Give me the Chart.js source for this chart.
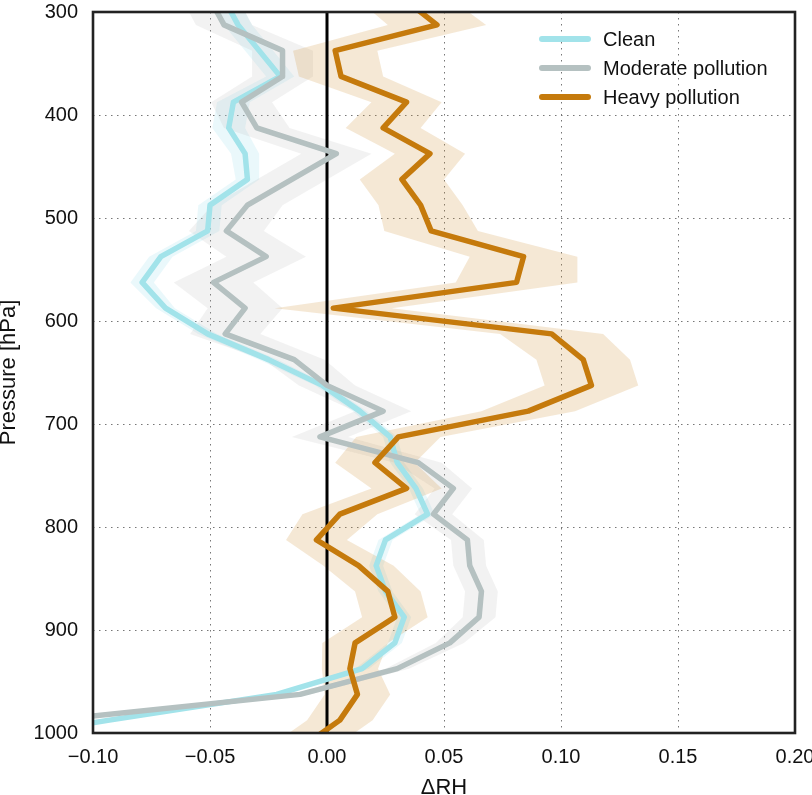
<!DOCTYPE html>
<html>
<head>
<meta charset="utf-8">
<script src="https://cdn.jsdelivr.net/npm/chart.js@4.4.1/dist/chart.umd.min.js"></script>
<style>
  html, body { margin: 0; padding: 0; background: #fff; }
  #wrap { width: 812px; height: 795px; position: relative; }
</style>
</head>
<body>
<div id="wrap"><canvas id="chart"></canvas></div>
<script>
'use strict';

// pressure levels (hPa), bin centres
const levels = [
  287.5, 312.5, 337.5, 362.5, 387.5, 412.5, 437.5, 462.5, 487.5, 512.5,
  537.5, 562.5, 587.5, 612.5, 637.5, 662.5, 687.5, 712.5, 737.5, 762.5,
  787.5, 812.5, 837.5, 862.5, 887.5, 912.5, 937.5, 962.5, 987.5, 1012.5,
];

const seriesNames = ['Clean', 'Moderate pollution', 'Heavy pollution'];

const clean = [
  -0.044, -0.038, -0.029, -0.020, -0.040, -0.042, -0.035, -0.034, -0.050, -0.051,
  -0.071, -0.079, -0.069, -0.051, -0.025, -0.002, 0.014, 0.027, 0.030, 0.038,
  0.043, 0.025, 0.021, 0.025, 0.033, 0.029, 0.015, -0.0215, -0.093, -0.16,
];
const moderate = [
  -0.050, -0.044, -0.019, -0.019, -0.0365, -0.030, 0.004, -0.015, -0.034, -0.043,
  -0.026, -0.0485, -0.035, -0.0435, -0.014, 0.000, 0.024, -0.003, 0.039, 0.054,
  0.0455, 0.060, 0.061, 0.066, 0.065, 0.0525, 0.030, -0.0115, -0.117, -0.23,
];
const heavy = [
  0.033, 0.047, 0.0035, 0.006, 0.034, 0.024, 0.044, 0.032, 0.040, 0.0445,
  0.084, 0.081, 0.0027, 0.096, 0.1095, 0.113, 0.086, 0.0305, 0.0205, 0.034,
  0.0055, -0.0045, 0.0135, 0.026, 0.029, 0.012, 0.0098, 0.013, 0.0055, -0.01,
];

// half-width of the shaded spread
const cleanErr = [
  0.006, 0.006, 0.006, 0.006, 0.007, 0.007, 0.006, 0.005, 0.005, 0.005,
  0.005, 0.005, 0.004, 0.004, 0.004, 0.003, 0.003, 0.003, 0.003, 0.003,
  0.003, 0.003, 0.003, 0.003, 0.003, 0.003, 0.003, 0.003, 0.003, 0.003,
];
const moderateErr = [
  0.012, 0.012, 0.013, 0.013, 0.013, 0.014, 0.015, 0.015, 0.015, 0.016,
  0.017, 0.017, 0.016, 0.015, 0.013, 0.012, 0.012, 0.012, 0.010, 0.008,
  0.008, 0.007, 0.007, 0.007, 0.007, 0.006, 0.005, 0.004, 0.004, 0.004,
];
const heavyErr = [
  0.020, 0.021, 0.018, 0.018, 0.015, 0.016, 0.015, 0.018, 0.018, 0.020,
  0.023, 0.026, 0.025, 0.022, 0.020, 0.020, 0.020, 0.018, 0.017, 0.015,
  0.016, 0.013, 0.015, 0.014, 0.014, 0.014, 0.012, 0.014, 0.014, 0.014,
];

const xTicks = [-0.10, -0.05, 0.00, 0.05, 0.10, 0.15, 0.20];
const yTicks = [300, 400, 500, 600, 700, 800, 900, 1000];

const lineColors = ['#a2e3ea', '#b5c1c1', '#c57a0c'];
const bandColors = ['rgba(160, 225, 235, 0.22)', 'rgba(180, 180, 180, 0.17)', 'rgba(210, 145, 55, 0.21)'];
const fontFamily = "'Liberation Sans', Arial, Helvetica, sans-serif";

const seriesValues = [clean, moderate, heavy];
const seriesErrors = [cleanErr, moderateErr, heavyErr];

function toPoints(values) {
  return levels.map((p, i) => ({ x: values[i], y: p }));
}

function formatTick(v) {
  if (Math.abs(v) < 1e-9) return '0.00';
  return (v < 0 ? '\u2212' : '') + Math.abs(v).toFixed(2);
}

const bandPlugin = {
  id: 'bands',
  beforeDatasetsDraw(chart) {
    const { ctx, chartArea, scales } = chart;
    ctx.save();
    ctx.beginPath();
    ctx.rect(chartArea.left, chartArea.top, chartArea.width, chartArea.height);
    ctx.clip();

    seriesValues.forEach((values, s) => {
      const err = seriesErrors[s];
      ctx.beginPath();
      levels.forEach((p, i) => {
        const px = scales.x.getPixelForValue(values[i] - err[i]);
        const py = scales.y.getPixelForValue(p);
        if (i === 0) ctx.moveTo(px, py); else ctx.lineTo(px, py);
      });
      for (let i = levels.length - 1; i >= 0; i--) {
        ctx.lineTo(scales.x.getPixelForValue(values[i] + err[i]), scales.y.getPixelForValue(levels[i]));
      }
      ctx.closePath();
      ctx.fillStyle = bandColors[s];
      ctx.fill();
    });

    // zero line
    const x0 = scales.x.getPixelForValue(0);
    ctx.beginPath();
    ctx.moveTo(x0, chartArea.top);
    ctx.lineTo(x0, chartArea.bottom);
    ctx.lineWidth = 3;
    ctx.strokeStyle = '#000';
    ctx.stroke();
    ctx.restore();
  },
};

const framePlugin = {
  id: 'frame',
  afterDraw(chart) {
    const { ctx, chartArea } = chart;
    ctx.save();

    // legend in the upper right of the plot
    ctx.font = `20px ${fontFamily}`;
    ctx.textBaseline = 'middle';
    ctx.textAlign = 'left';
    seriesNames.forEach((name, i) => {
      const y = chartArea.top + 27 + i * 29;
      const x = chartArea.right - 253;
      ctx.beginPath();
      ctx.moveTo(x, y);
      ctx.lineTo(x + 46, y);
      ctx.lineWidth = 6;
      ctx.lineCap = 'round';
      ctx.strokeStyle = lineColors[i];
      ctx.stroke();
      ctx.fillStyle = '#111';
      ctx.fillText(name, x + 61, y + 1);
    });

    ctx.lineWidth = 2.6;
    ctx.strokeStyle = '#222';
    ctx.strokeRect(chartArea.left, chartArea.top, chartArea.width, chartArea.height);
    ctx.restore();
  },
};

const datasets = seriesValues.map((values, i) => ({
  label: seriesNames[i],
  data: toPoints(values),
  showLine: true,
  borderColor: lineColors[i],
  backgroundColor: lineColors[i],
  borderWidth: 5.5,
  borderJoinStyle: 'round',
  pointRadius: 0,
  tension: 0,
  clip: 0,
  order: 3 - i,
}));

new Chart(document.getElementById('chart'), {
  type: 'scatter',
  data: { datasets },
  options: {
    responsive: true,
    maintainAspectRatio: false,
    animation: false,
    layout: { padding: { top: 12, right: 17, bottom: 0, left: 0 } },
    plugins: {
      legend: { display: false },
      tooltip: { enabled: false },
    },
    scales: {
      x: {
        type: 'linear',
        min: xTicks[0],
        max: xTicks[xTicks.length - 1],
        afterBuildTicks: (scale) => { scale.ticks = xTicks.map((v) => ({ value: v })); },
        afterFit: (scale) => { scale.height = 62; scale.paddingLeft = 0; scale.paddingRight = 0; },
        grid: { color: '#777', lineWidth: 1, drawTicks: false },
        border: { display: false, dash: [1.5, 4.5] },
        ticks: {
          padding: 12,
          maxRotation: 0,
          autoSkip: false,
          color: '#111',
          font: { size: 20, family: fontFamily },
          callback: (v) => formatTick(v),
        },
        title: {
          display: true,
          text: '\u0394RH',
          color: '#111',
          padding: 0,
          font: { size: 22, family: fontFamily, lineHeight: 0.64 },
        },
      },
      y: {
        type: 'linear',
        reverse: true,
        min: yTicks[0],
        max: yTicks[yTicks.length - 1],
        afterBuildTicks: (scale) => { scale.ticks = yTicks.map((v) => ({ value: v })); },
        afterFit: (scale) => { scale.width = 93; scale.paddingTop = 0; scale.paddingBottom = 0; },
        grid: { color: '#777', lineWidth: 1, drawTicks: false },
        border: { display: false, dash: [1.5, 4.5] },
        ticks: {
          padding: 15,
          autoSkip: false,
          color: '#111',
          font: { size: 20, family: fontFamily },
          callback: (v) => String(v),
        },
        title: {
          display: true,
          text: 'Pressure [hPa]',
          color: '#111',
          padding: 0,
          font: { size: 22, family: fontFamily, lineHeight: 0.77 },
        },
      },
    },
  },
  plugins: [bandPlugin, framePlugin],
});
</script>
</body>
</html>
